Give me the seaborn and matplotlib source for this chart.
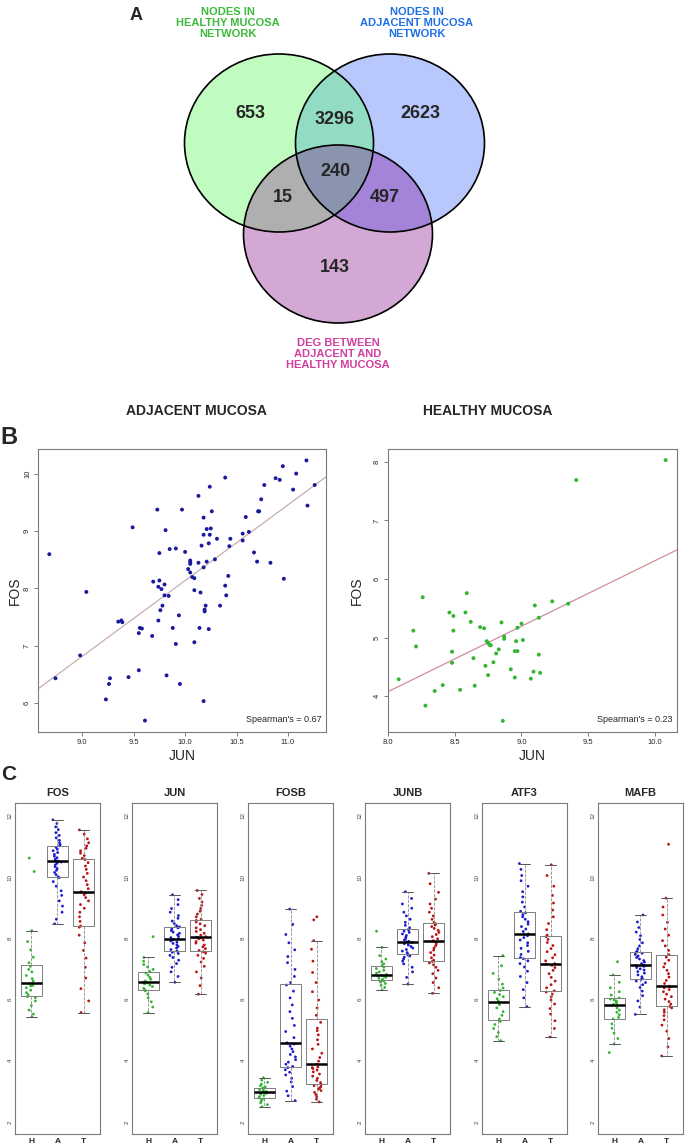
import numpy as np
import pandas as pd
import matplotlib
matplotlib.use("Agg")
import matplotlib.pyplot as plt
from matplotlib.colors import to_rgb
from matplotlib.patches import Ellipse
import seaborn as sns

W, H = 685, 1147

# ---- panel A: venn counts
venn_regions = ["healthy", "healthy_adjacent", "adjacent", "all", "healthy_deg", "adjacent_deg", "deg"]
venn_counts = [653, 3296, 2623, 240, 15, 497, 143]

# ---- panel B: FOS vs JUN
adj_jun = [8.68, 8.74, 8.98, 9.04, 9.23, 9.26, 9.27, 9.35, 9.38, 9.39, 9.45, 9.49, 9.55, 9.55,
           9.56, 9.58, 9.61, 9.68, 9.69, 9.73, 9.74, 9.74, 9.75, 9.75, 9.76, 9.77, 9.78, 9.80,
           9.80, 9.81, 9.82, 9.84, 9.85, 9.88, 9.91, 9.91, 9.94, 9.95, 9.97, 10.00, 10.03, 10.05,
           10.05, 10.05, 10.05, 10.07, 10.09, 10.09, 10.09, 10.13, 10.13, 10.15, 10.14, 10.16,
           10.18, 10.18, 10.18, 10.19, 10.19, 10.18, 10.20, 10.21, 10.21, 10.23, 10.23, 10.24,
           10.24, 10.25, 10.26, 10.29, 10.31, 10.34, 10.39, 10.39, 10.40, 10.42, 10.43, 10.44,
           10.56, 10.56, 10.59, 10.62, 10.67, 10.70, 10.71, 10.72, 10.74, 10.77, 10.83, 10.88,
           10.92, 10.95, 10.96, 11.05, 11.08, 11.18, 11.19, 11.26]
adj_fos = [8.60, 6.43, 6.83, 7.94, 6.06, 6.33, 6.43, 7.42, 7.44, 7.41, 6.45, 9.07, 6.57, 7.22,
           7.31, 7.30, 5.69, 7.17, 8.12, 9.38, 8.03, 7.44, 8.62, 8.14, 7.62, 7.99, 7.70, 7.88,
           8.07, 9.02, 6.48, 7.87, 8.69, 7.31, 8.70, 7.03, 7.53, 6.33, 9.38, 8.64, 8.34, 8.43,
           8.46, 8.49, 8.28, 8.20, 8.18, 7.97, 7.06, 9.62, 8.45, 7.93, 7.31, 8.75,
           8.94, 9.24, 8.37, 7.63, 7.60, 6.03, 7.70, 8.47, 9.04, 8.79, 7.29, 9.78,
           8.94, 9.05, 9.35, 8.51, 8.87, 7.70, 9.94, 8.05, 7.88, 8.22, 8.74, 8.87,
           8.96, 8.84, 9.25, 8.99, 8.63, 8.47, 9.35, 9.35, 9.56, 9.81, 8.45, 9.93,
           9.90, 10.14, 8.17, 9.73, 10.01, 10.24, 9.45, 9.81]

hea_jun = [8.08, 8.19, 8.21, 8.26, 8.28, 8.35, 8.41, 8.46, 8.48, 8.49, 8.48, 8.49, 8.54, 8.58,
           8.59, 8.62, 8.64, 8.65, 8.69, 8.72, 8.73, 8.74, 8.75, 8.75, 8.76, 8.77, 8.79, 8.81,
           8.83, 8.85, 8.86, 8.87, 8.87, 8.92, 8.95, 8.96, 8.95, 8.97, 8.97, 9.00, 9.01, 9.07,
           9.09, 9.10, 9.13, 9.13, 9.14, 9.23, 9.35, 9.41, 10.08]
hea_fos = [4.29, 5.12, 4.85, 5.69, 3.84, 4.09, 4.19, 5.43, 4.76, 5.37, 4.57, 5.12, 4.11, 5.43,
           5.76, 5.27, 4.65, 4.18, 5.18, 5.16, 4.52, 4.94, 4.91, 4.36, 4.88, 4.87, 4.58, 4.73,
           4.80, 5.26, 3.58, 5.02, 4.98, 4.46, 4.32, 4.94, 4.77, 4.77, 5.17, 5.24, 4.96, 4.30,
           4.42, 5.55, 5.34, 4.71, 4.40, 5.62, 5.58, 7.69, 8.03]

# ---- panel C: expression per gene and tissue (H healthy, A adjacent, T tumour)
genes = ["FOS", "JUN", "FOSB", "JUNB", "ATF3", "MAFB"]
groups = ["H", "A", "T"]

fos_h = [5.43, 5.52, 5.65, 5.80, 5.95, 6.06, 6.09, 6.15, 6.22, 6.30, 6.38, 6.44,
         6.46, 6.52, 6.60, 6.68, 6.78, 6.90, 6.98, 7.08, 7.20, 7.38, 7.62, 7.89, 8.25, 10.18, 10.62]
fos_a = [8.47, 8.62, 8.85, 9.05, 9.22, 9.40, 9.55, 9.70, 9.85, 9.98,
         10.01, 10.08, 10.15, 10.22, 10.28, 10.34, 10.40, 10.45, 10.49, 10.52,
         10.54, 10.58, 10.63, 10.68, 10.74, 10.80, 10.86, 10.91, 10.97, 11.02,
         11.06, 11.12, 11.20, 11.28, 11.36, 11.45, 11.55, 11.64, 11.75, 11.87]
fos_t = [5.57, 5.95, 6.35, 6.70, 7.05, 7.35, 7.60, 7.85, 8.10, 8.36,
         8.40, 8.55, 8.70, 8.85, 8.98, 9.10, 9.22, 9.33, 9.42, 9.48,
         9.52, 9.62, 9.75, 9.88, 10.00, 10.12, 10.25, 10.36, 10.47, 10.57,
         10.61, 10.70, 10.78, 10.86, 10.94, 11.02, 11.12, 11.25, 11.40, 11.54]

jun_h = [5.57, 5.75, 5.92, 6.05, 6.18, 6.28, 6.31, 6.36, 6.42, 6.47, 6.51, 6.54,
         6.56, 6.60, 6.66, 6.72, 6.79, 6.86, 6.91, 6.98, 7.06, 7.14, 7.25, 7.37, 8.05]
jun_a = [6.56, 6.75, 6.90, 7.05, 7.17, 7.28, 7.37, 7.44, 7.50, 7.54,
         7.58, 7.63, 7.68, 7.73, 7.78, 7.83, 7.87, 7.91, 7.94, 7.96,
         7.98, 8.02, 8.06, 8.11, 8.16, 8.20, 8.25, 8.30, 8.34, 8.37,
         8.41, 8.48, 8.56, 8.65, 8.74, 8.85, 8.97, 9.10, 9.26, 9.42]
jun_t = [6.17, 6.45, 6.70, 6.90, 7.08, 7.22, 7.34, 7.44, 7.51, 7.56,
         7.60, 7.66, 7.72, 7.78, 7.84, 7.89, 7.94, 7.98, 8.01, 8.03,
         8.05, 8.10, 8.16, 8.22, 8.28, 8.34, 8.41, 8.47, 8.53, 8.58,
         8.62, 8.70, 8.79, 8.88, 8.97, 9.07, 9.18, 9.30, 9.43, 9.56]

fosb_h = [2.49, 2.56, 2.62, 2.67, 2.72, 2.75, 2.78, 2.82, 2.86, 2.90, 2.93, 2.95,
          2.97, 2.99, 3.02, 3.05, 3.08, 3.11, 3.14, 3.18, 3.23, 3.29, 3.36, 3.44]
fosb_a = [2.69, 2.85, 3.00, 3.15, 3.30, 3.42, 3.53, 3.62, 3.70, 3.77,
          3.81, 3.88, 3.95, 4.03, 4.12, 4.20, 4.29, 4.38, 4.47, 4.54,
          4.58, 4.75, 4.95, 5.15, 5.38, 5.60, 5.82, 6.05, 6.27, 6.47,
          6.55, 6.75, 6.98, 7.20, 7.40, 7.62, 7.85, 8.12, 8.45, 8.95]
fosb_t = [2.65, 2.74, 2.82, 2.89, 2.96, 3.02, 3.07, 3.11, 3.15, 3.18,
          3.22, 3.28, 3.35, 3.42, 3.49, 3.56, 3.63, 3.69, 3.74, 3.77,
          3.79, 3.88, 3.98, 4.10, 4.24, 4.38, 4.53, 4.68, 4.84, 4.98,
          5.06, 5.25, 5.48, 5.72, 5.98, 6.25, 6.55, 6.88, 7.25, 7.64, 7.92, 8.60, 8.70]

junb_h = [6.31, 6.39, 6.46, 6.52, 6.57, 6.60, 6.62, 6.65, 6.69, 6.72, 6.75, 6.77,
          6.79, 6.82, 6.86, 6.90, 6.95, 7.01, 7.05, 7.10, 7.16, 7.23, 7.32, 7.43, 7.70, 8.23]
junb_a = [6.50, 6.72, 6.90, 7.05, 7.16, 7.25, 7.32, 7.38, 7.42, 7.45,
          7.48, 7.53, 7.58, 7.63, 7.68, 7.73, 7.78, 7.82, 7.86, 7.88,
          7.90, 7.94, 7.99, 8.04, 8.09, 8.14, 8.19, 8.23, 8.27, 8.30,
          8.34, 8.42, 8.52, 8.62, 8.73, 8.85, 8.98, 9.12, 9.30, 9.52]
junb_t = [6.20, 6.38, 6.55, 6.70, 6.84, 6.95, 7.05, 7.13, 7.19, 7.24,
          7.28, 7.36, 7.45, 7.53, 7.61, 7.68, 7.75, 7.81, 7.86, 7.90,
          7.92, 7.98, 8.05, 8.12, 8.19, 8.26, 8.32, 8.38, 8.43, 8.47,
          8.52, 8.62, 8.73, 8.85, 8.98, 9.12, 9.28, 9.50, 9.78, 10.12]

atf3_h = [4.65, 4.78, 4.92, 5.05, 5.18, 5.28, 5.36, 5.48, 5.60, 5.72, 5.83, 5.91,
          5.95, 6.02, 6.09, 6.16, 6.23, 6.29, 6.37, 6.50, 6.66, 6.85, 7.10, 7.43]
atf3_a = [5.76, 6.05, 6.32, 6.55, 6.75, 6.92, 7.06, 7.17, 7.26, 7.33,
          7.37, 7.47, 7.57, 7.67, 7.76, 7.85, 7.94, 8.02, 8.08, 8.12,
          8.14, 8.22, 8.30, 8.38, 8.46, 8.54, 8.62, 8.70, 8.77, 8.83,
          8.88, 9.02, 9.18, 9.35, 9.52, 9.70, 9.88, 10.05, 10.25, 10.44]
atf3_t = [4.77, 5.05, 5.30, 5.52, 5.70, 5.85, 5.98, 6.08, 6.17, 6.24,
          6.28, 6.38, 6.48, 6.60, 6.72, 6.84, 6.95, 7.04, 7.11, 7.15,
          7.17, 7.26, 7.36, 7.46, 7.56, 7.66, 7.76, 7.86, 7.96, 8.05,
          8.10, 8.28, 8.48, 8.70, 8.92, 9.15, 9.40, 9.70, 10.05, 10.40]

mafb_h = [4.26, 4.54, 4.72, 4.90, 5.06, 5.20, 5.36, 5.41, 5.50, 5.58, 5.65, 5.72, 5.80,
          5.84, 5.88, 5.92, 5.95, 5.98, 6.01, 6.05, 6.14, 6.25, 6.38, 6.56, 6.80, 7.23]
mafb_a = [5.51, 5.75, 5.95, 6.12, 6.27, 6.39, 6.48, 6.55, 6.60, 6.65,
          6.68, 6.74, 6.80, 6.86, 6.91, 6.96, 7.00, 7.04, 7.08, 7.10,
          7.12, 7.17, 7.22, 7.27, 7.32, 7.37, 7.42, 7.47, 7.51, 7.54,
          7.58, 7.66, 7.75, 7.85, 7.96, 8.08, 8.20, 8.35, 8.53, 8.76]
mafb_t = [4.15, 4.45, 4.72, 4.96, 5.16, 5.33, 5.47, 5.58, 5.66, 5.72,
          5.77, 5.85, 5.93, 6.01, 6.09, 6.17, 6.25, 6.32, 6.38, 6.41,
          6.43, 6.52, 6.62, 6.73, 6.84, 6.95, 7.06, 7.17, 7.28, 7.38,
          7.46, 7.60, 7.75, 7.92, 8.10, 8.30, 8.52, 8.76, 9.02, 9.31, 11.07]

expr = {
    ("FOS", "H"): fos_h, ("FOS", "A"): fos_a, ("FOS", "T"): fos_t,
    ("JUN", "H"): jun_h, ("JUN", "A"): jun_a, ("JUN", "T"): jun_t,
    ("FOSB", "H"): fosb_h, ("FOSB", "A"): fosb_a, ("FOSB", "T"): fosb_t,
    ("JUNB", "H"): junb_h, ("JUNB", "A"): junb_a, ("JUNB", "T"): junb_t,
    ("ATF3", "H"): atf3_h, ("ATF3", "A"): atf3_a, ("ATF3", "T"): atf3_t,
    ("MAFB", "H"): mafb_h, ("MAFB", "A"): mafb_a, ("MAFB", "T"): mafb_t,
}
rows = [(g, grp, v) for (g, grp), vals in expr.items() for v in vals]
box_df = pd.DataFrame(rows, columns=["gene", "group", "value"])

group_colors = {"H": "#2fb52f", "A": "#1a1ad0", "T": "#b81414"}

sns.set_style("white")
plt.rcParams["font.family"] = ["Liberation Sans", "DejaVu Sans"]
np.random.seed(3)

fig = plt.figure(figsize=(W / 100, H / 100), dpi=100)

bg = fig.add_axes([0, 0, 1, 1])
bg.set_xlim(0, W)
bg.set_ylim(H, 0)
bg.axis("off")


def px_axes(left, top, right, bottom):
    return fig.add_axes([left / W, 1 - bottom / H, (right - left) / W, (bottom - top) / H])


# ---------------- A: venn
narrow = ["Liberation Sans Narrow", "Liberation Sans", "DejaVu Sans"]
bg.text(136, 15, "A", fontsize=13, fontweight="bold", ha="center", va="center")

centres = [(279, 143), (390, 143), (338, 234)]
rx, ry = 94.5, 89
# region fill colours, keyed by membership (healthy, adjacent, deg)
region_fill = {
    (1, 0, 0): "#c0fcc0", (0, 1, 0): "#b8c8fc", (0, 0, 1): "#d4a8d4",
    (1, 1, 0): "#92dcc4", (1, 0, 1): "#b0b0b0", (0, 1, 1): "#a484d8",
    (1, 1, 1): "#8a94b0",
}
ss = 3
x0, x1, y0, y1 = 170, 500, 45, 335
gx, gy = np.meshgrid(np.arange(x0, x1, 1 / ss) + 0.5 / ss, np.arange(y0, y1, 1 / ss) + 0.5 / ss)
inside = [((gx - cx) / rx) ** 2 + ((gy - cy) / ry) ** 2 <= 1 for cx, cy in centres]
img = np.zeros(gx.shape + (4,))
for key, col in region_fill.items():
    m = np.ones(gx.shape, bool)
    for k, ins in zip(key, inside):
        m &= ins if k else ~ins
    img[m, :3] = to_rgb(col)
    img[m, 3] = 1
bg.imshow(img, extent=(x0, x1, y1, y0), origin="upper", interpolation="antialiased",
          aspect="auto", zorder=1)
for cx, cy in centres:
    bg.add_patch(Ellipse((cx, cy), 2 * rx, 2 * ry, facecolor="none", edgecolor="black",
                         lw=1.2, zorder=2))
bg.set_xlim(0, W)
bg.set_ylim(H, 0)

count_pos = [(250, 113), (335, 120), (420, 113), (335, 172), (283, 197), (385, 197), (335, 268)]
for (x, y), n in zip(count_pos, venn_counts):
    bg.text(x, y, str(n), fontsize=13, fontweight="bold", ha="center", va="center",
            family=narrow, zorder=3)

bg.text(228, 23, "NODES IN\nHEALTHY MUCOSA\nNETWORK", color="#3cba3c", fontsize=8,
        fontweight="bold", ha="center", va="center", family=narrow, linespacing=1.15)
bg.text(417, 23, "NODES IN\nADJACENT MUCOSA\nNETWORK", color="#1f6fe6", fontsize=8,
        fontweight="bold", ha="center", va="center", family=narrow, linespacing=1.15)
bg.text(338, 354, "DEG BETWEEN\nADJACENT AND\nHEALTHY MUCOSA", color="#d23f9f", fontsize=8,
        fontweight="bold", ha="center", va="center", family=narrow, linespacing=1.15)

# ---------------- B: scatter plots
bg.text(9, 437, "B", fontsize=17, fontweight="bold", ha="center", va="center")
bg.text(196, 411, "ADJACENT MUCOSA", fontsize=10, fontweight="bold", ha="center", va="center")
bg.text(488, 411, "HEALTHY MUCOSA", fontsize=10, fontweight="bold", ha="center", va="center")


def scatter_panel(box, jun, fos, color, line_color, xlim, ylim, xticks, yticks, rho, ylab_dx):
    ax = px_axes(*box)
    df = pd.DataFrame({"JUN": jun, "FOS": fos})
    ax.set_xlim(xlim)
    ax.set_ylim(ylim)
    sns.regplot(data=df, x="JUN", y="FOS", ax=ax, scatter=False, ci=None, truncate=False,
                line_kws=dict(color=line_color, lw=0.9))
    sns.scatterplot(data=df, x="JUN", y="FOS", ax=ax, color=color, s=8, edgecolor="none", zorder=3)
    ax.set_xlim(xlim)
    ax.set_ylim(ylim)
    ax.set_xticks(xticks)
    ax.set_xticklabels([f"{t:.1f}" for t in xticks])
    ax.set_yticks(yticks)
    ax.set_yticklabels([str(t) for t in yticks])
    ax.tick_params(axis="both", direction="out", length=3, width=0.6, labelsize=5.5,
                   color="#666666", pad=2, bottom=True, left=True)
    ax.tick_params(axis="y", labelrotation=90)
    for lab in ax.get_yticklabels():
        lab.set_va("center")
    for s in ax.spines.values():
        s.set_color("#7a7a7a")
        s.set_linewidth(0.8)
    ax.set_xlabel("JUN", fontsize=10)
    ax.set_ylabel("FOS", fontsize=10)
    wpx = box[2] - box[0]
    hpx = box[3] - box[1]
    ax.xaxis.label.set_va("center")
    ax.yaxis.label.set_va("center")
    ax.xaxis.set_label_coords(0.5, -24 / hpx)
    ax.yaxis.set_label_coords(-ylab_dx / wpx, 0.5)
    ax.text(0.985, 0.045, f"Spearman's = {rho}", transform=ax.transAxes, fontsize=6.5,
            ha="right", va="center")
    return ax


scatter_panel((38, 449, 326, 732), adj_jun, adj_fos, "#1a1a9e", "#c9aeb0",
              (8.57, 11.37), (5.49, 10.44), [9.0, 9.5, 10.0, 10.5, 11.0], [6, 7, 8, 9, 10],
              "0.67", 23)
scatter_panel((388, 449, 677, 732), hea_jun, hea_fos, "#33b533", "#cf8f98",
              (8.0, 10.165), (3.39, 8.22), [8.0, 8.5, 9.0, 9.5, 10.0], [4, 5, 6, 7, 8],
              "0.23", 31)

# ---------------- C: box plots
bg.text(9, 774, "C", fontsize=15, fontweight="bold", ha="center", va="center")
box_lefts = [15, 132, 248, 365, 482, 598]
for gene, lo in zip(genes, box_lefts):
    ax = px_axes(lo, 803, lo + 85, 1134)
    sub = box_df[box_df["gene"] == gene]
    sns.stripplot(data=sub, x="group", y="value", hue="group", order=groups, hue_order=groups,
                  palette=group_colors, jitter=0.2, size=2.0, linewidth=0, legend=False,
                  ax=ax, zorder=1)
    sns.boxplot(data=sub, x="group", y="value", order=groups, fill=False, color="#7f7f7f",
                width=0.8, showfliers=False, linewidth=0.7,
                medianprops=dict(color="black", linewidth=1.8),
                whiskerprops=dict(linestyle="--", color="#8a8a8a", linewidth=0.6),
                capprops=dict(color="#555555", linewidth=0.7),
                ax=ax)
    ax.set_xlim(-0.62, 2.62)
    ax.set_ylim(1.6, 12.42)
    ax.set_yticks([2, 4, 6, 8, 10, 12])
    ax.set_yticklabels(["2", "4", "6", "8", "10", "12"])
    ax.set_xlabel("")
    ax.set_ylabel("")
    ax.tick_params(axis="y", labelsize=4.5, length=0, pad=1.5, labelrotation=90, colors="#444444")
    ax.tick_params(axis="x", labelsize=6, length=0, pad=3)
    for lab in ax.get_yticklabels():
        lab.set_va("center")
    for lab in ax.get_xticklabels():
        lab.set_fontweight("bold")
    for s in ax.spines.values():
        s.set_color("#7a7a7a")
        s.set_linewidth(0.8)
    bg.text(lo + 42.5, 793, gene, fontsize=8, fontweight="bold", ha="center", va="center")

fig.savefig("out.png", dpi=100)
